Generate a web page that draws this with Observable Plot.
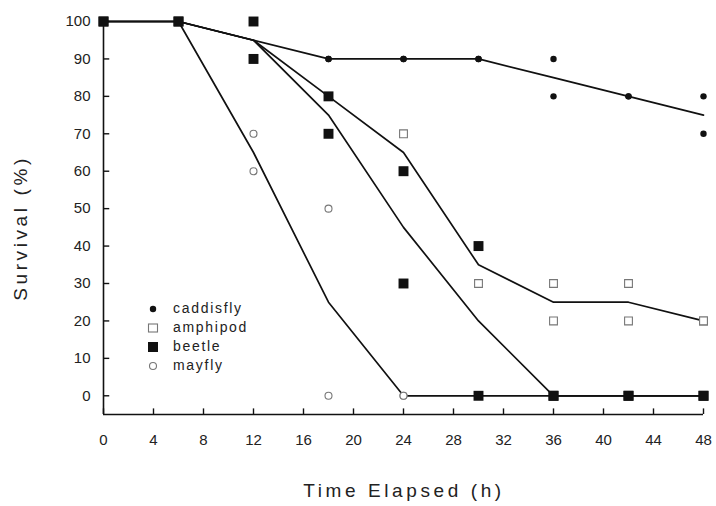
<!DOCTYPE html>
<html>
<head>
<meta charset="utf-8">
<script src="https://cdn.jsdelivr.net/npm/d3@7"></script>
<script src="https://cdn.jsdelivr.net/npm/@observablehq/plot@0.6"></script>
<style>
  html, body { margin: 0; padding: 0; background: #fff; }
  #chart { position: relative; width: 716px; height: 506px; font-family: "Liberation Sans", Arial, sans-serif; }
  #legend { position: absolute; left: 146px; top: 299px; font-size: 14px; letter-spacing: 1.7px; color: #222; line-height: 19px; }
  #legend .row { display: flex; align-items: center; height: 19px; }
  #legend svg { width: 14px; height: 14px; margin-right: 13px; }
  .ttl { font-size: 19px; letter-spacing: 3.6px; fill: #222; }
</style>
</head>
<body>
<div id="chart"></div>
<script>
// Sampling times (hours) and tick values
const hours = [0, 6, 12, 18, 24, 30, 36, 42, 48];
const xTicks = [0, 4, 8, 12, 16, 20, 24, 28, 32, 36, 40, 44, 48];
const yTicks = [0, 10, 20, 30, 40, 50, 60, 70, 80, 90, 100];

// Species shown (legend order)
const species = ["caddisfly", "amphipod", "beetle", "mayfly"];

// Replicate survival (%) at each sampling time
const caddisflyRep1 = [100, 100, 100, 90, 90, 90, 90, 80, 80];
const caddisflyRep2 = [100, 100, 90, 90, 90, 90, 80, 80, 70];
const amphipodRep1  = [100, 100, 100, 80, 70, 40, 30, 30, 20];
const amphipodRep2  = [100, 100, 90, 80, 60, 30, 20, 20, 20];
const beetleRep1    = [100, 100, 100, 80, 60, 40, 0, 0, 0];
const beetleRep2    = [100, 100, 90, 70, 30, 0, 0, 0, 0];
const mayflyRep1    = [100, 100, 70, 50, 0, 0, 0, 0, 0];
const mayflyRep2    = [100, 100, 60, 0, 0, 0, 0, 0, 0];

// Mean survival (%) joined by the lines
const caddisflyMean = [100, 100, 95, 90, 90, 90, 85, 80, 75];
const amphipodMean  = [100, 100, 95, 80, 65, 35, 25, 25, 20];
const beetleMean    = [100, 100, 95, 75, 45, 20, 0, 0, 0];
const mayflyMean    = [100, 100, 65, 25, 0, 0, 0, 0, 0];

const reps = {
  caddisfly: [caddisflyRep1, caddisflyRep2],
  amphipod: [amphipodRep1, amphipodRep2],
  beetle: [beetleRep1, beetleRep2],
  mayfly: [mayflyRep1, mayflyRep2]
};
const means = { caddisfly: caddisflyMean, amphipod: amphipodMean, beetle: beetleMean, mayfly: mayflyMean };

const points = species.flatMap(s => reps[s].flatMap(r => r.map((v, i) => ({ species: s, t: hours[i], v }))));
const lines = species.flatMap(s => means[s].map((v, i) => ({ species: s, t: hours[i], v })));
const pts = s => points.filter(d => d.species === s);

const plot = Plot.plot({
  width: 716,
  height: 506,
  marginLeft: 103,
  marginRight: 13,
  marginTop: 21,
  marginBottom: 92,
  style: { fontFamily: "'Liberation Sans', Arial, sans-serif", background: "#fff" },
  x: { domain: [0, 48] },
  y: { domain: [-5, 100] },
  marks: [
    // axis frame
    Plot.ruleX([0], { y1: -5, y2: 100, stroke: "#111", strokeWidth: 1.6 }),
    Plot.ruleY([-5], { x1: 0, x2: 48, stroke: "#111", strokeWidth: 1.6 }),
    // inward tick marks
    Plot.ruleY(yTicks, { x1: 0, x2: 0.5, stroke: "#111", strokeWidth: 1.4 }),
    Plot.ruleX(xTicks, { y1: -5, y2: -3.5, stroke: "#111", strokeWidth: 1.4 }),
    Plot.axisY({ ticks: yTicks, tickSize: 0, tickPadding: 13, fontSize: 15, fill: "#222", label: null, tickFormat: d => d, style: { letterSpacing: "0.8px" } }),
    Plot.axisX({ ticks: xTicks, tickSize: 0, tickPadding: 20, fontSize: 15, fill: "#222", label: null, tickFormat: d => d, style: { letterSpacing: "0.8px" } }),
    // mean survival lines
    Plot.line(lines, { x: "t", y: "v", z: "species", stroke: "#111", strokeWidth: 1.7 }),
    // replicate points; filled squares go on top
    Plot.dot(pts("caddisfly"), { x: "t", y: "v", r: 3.2, fill: "#111", stroke: "none" }),
    Plot.dot(pts("mayfly"), { x: "t", y: "v", r: 3.5, fill: "#fff", stroke: "#777", strokeWidth: 1.1 }),
    Plot.dot(pts("amphipod"), { x: "t", y: "v", symbol: "square", r: 4.4, fill: "#fff", stroke: "#777", strokeWidth: 1.1 }),
    Plot.dot(pts("beetle"), { x: "t", y: "v", symbol: "square", r: 5.6, fill: "#111", stroke: "none" })
  ]
});

const root = document.getElementById("chart");
root.appendChild(plot);

// axis titles
const svg = d3.select(plot);
svg.append("text").attr("class", "ttl").attr("x", 404).attr("y", 497)
  .attr("text-anchor", "middle").text("Time Elapsed (h)");
svg.append("text").attr("class", "ttl")
  .attr("transform", "translate(27,228) rotate(-90)")
  .attr("text-anchor", "middle").text("Survival (%)");

// legend
const symbols = {
  caddisfly: '<circle cx="7" cy="7" r="3.2" fill="#111"/>',
  amphipod: '<rect x="2.5" y="3" width="9" height="8" fill="#fff" stroke="#777" stroke-width="1.1"/>',
  beetle: '<rect x="2" y="2" width="10" height="10" fill="#111"/>',
  mayfly: '<circle cx="7" cy="7" r="3.5" fill="#fff" stroke="#777" stroke-width="1.1"/>'
};
const legend = document.createElement("div");
legend.id = "legend";
legend.innerHTML = species.map(s =>
  `<div class="row"><svg viewBox="0 0 14 14">${symbols[s]}</svg><span>${s}</span></div>`).join("");
root.appendChild(legend);
</script>
</body>
</html>
